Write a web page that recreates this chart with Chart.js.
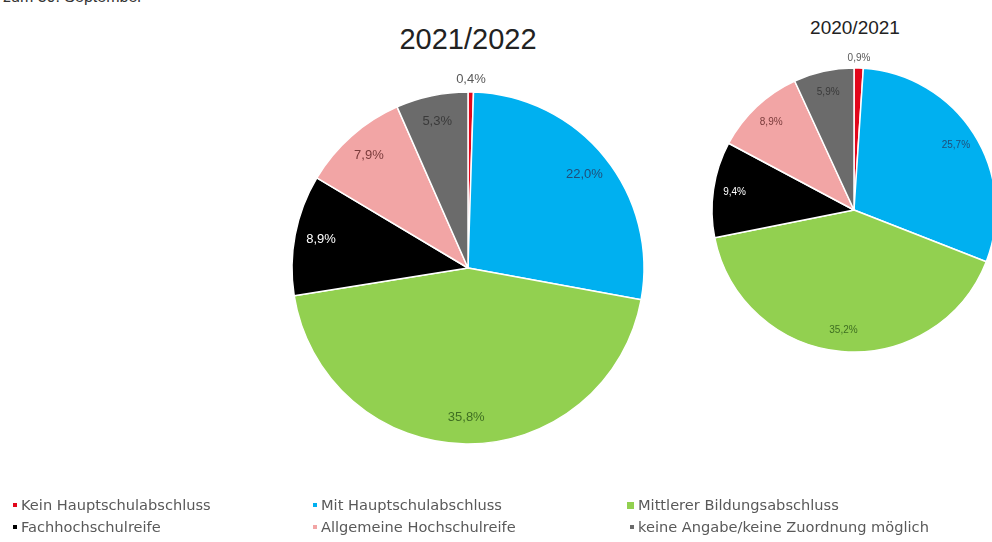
<!DOCTYPE html>
<html>
<head>
<meta charset="utf-8">
<script src="https://cdn.jsdelivr.net/npm/chart.js@4"></script>
<style>
  html, body { margin:0; padding:0; width:992px; height:542px; overflow:hidden; background:#ffffff; font-family:"Liberation Sans", Arial, sans-serif; }
  .abs { position:absolute; }
  #note { left:3px; top:-11px; font-size:16px; line-height:16px; color:#333333; white-space:nowrap; }
  .title { color:#222222; white-space:nowrap; transform:translateX(-50%); }
  #t1 { left:468px; top:23px; font-size:29px; }
  #t2 { left:855px; top:17px; font-size:19px; }
  #legend { left:0; top:496px; width:992px; height:46px; }
  .li { position:absolute; font-family:"DejaVu Sans", Verdana, sans-serif; font-size:14.6px; color:#595959; white-space:nowrap; line-height:14px; }
  .mk { position:absolute; }
</style>
</head>
<body>
<div id="note" class="abs">zum 30. September</div>
<div id="t1" class="abs title"></div>
<div id="t2" class="abs title"></div>
<canvas id="c1" class="abs" width="400" height="536" style="left:268px;top:0px;"></canvas>
<canvas id="c2" class="abs" width="300" height="340" style="left:704px;top:40px;"></canvas>
<div id="legend" class="abs"></div>
<script>
// ---- data ----
const categories = [
  "Kein Hauptschulabschluss",
  "Mit Hauptschulabschluss",
  "Mittlerer Bildungsabschluss",
  "Fachhochschulreife",
  "Allgemeine Hochschulreife",
  "keine Angabe/keine Zuordnung möglich"
];
const years = ["2021/2022", "2020/2021"];
const values2122 = [0.4, 22.0, 35.8, 8.9, 7.9, 5.3];
const values2021 = [0.9, 25.7, 35.2, 9.4, 8.9, 5.9];

// ---- styles ----
const sliceColors = ["#e2061b", "#00b0f0", "#92d050", "#000000", "#f2a5a5", "#6b6b6b"];
const labelColors = ["#595959", "#1f4e79", "#3f6f22", "#ffffff", "#7a3b3b", "#3a3a3a"];

document.getElementById('t1').textContent = years[0];
document.getElementById('t2').textContent = years[1];

function fmt(v) { return v.toFixed(1).replace('.', ',') + '%'; }

const labelPlugin = {
  id: 'sliceLabels',
  afterDatasetsDraw(chart, args, opts) {
    const ctx = chart.ctx;
    const meta = chart.getDatasetMeta(0);
    const data = chart.data.datasets[0].data;
    ctx.save();
    ctx.font = opts.fontSize + 'px "Liberation Sans", Arial, sans-serif';
    ctx.textAlign = 'center';
    ctx.textBaseline = 'middle';
    meta.data.forEach((arc, i) => {
      const p = arc.getProps(['x', 'y', 'startAngle', 'endAngle', 'outerRadius'], true);
      const mid = (p.startAngle + p.endAngle) / 2;
      const small = (p.endAngle - p.startAngle) < 0.1;
      const r = small ? p.outerRadius + opts.outside : p.outerRadius * opts.inside;
      ctx.fillStyle = labelColors[i];
      ctx.fillText(fmt(data[i]), p.x + Math.cos(mid) * r, p.y + Math.sin(mid) * r);
    });
    ctx.restore();
  }
};

function makePie(id, values, radius, fontSize, outside) {
  return new Chart(document.getElementById(id), {
    type: 'pie',
    data: {
      labels: categories,
      datasets: [{
        data: values,
        backgroundColor: sliceColors,
        borderColor: '#ffffff',
        borderWidth: 1.5
      }]
    },
    options: {
      responsive: false,
      animation: false,
      radius: radius,
      layout: { padding: 0 },
      plugins: {
        legend: { display: false },
        tooltip: { enabled: false },
        title: { display: false },
        sliceLabels: { fontSize: fontSize, inside: 0.85, outside: outside }
      }
    },
    plugins: [labelPlugin]
  });
}

makePie('c1', values2122, 176, 13, 13);
makePie('c2', values2021, 142, 10, 10);

// ---- legend (built from categories & colours) ----
const legend = document.getElementById('legend');
const cols = [13, 313, 627];
const rows = [2, 24];
categories.forEach((name, i) => {
  const col = cols[i % 3], row = rows[Math.floor(i / 3)];
  const big = (i === 2);
  const size = big ? 7 : 4;
  const mk = document.createElement('div');
  mk.className = 'mk';
  mk.style.width = size + 'px';
  mk.style.height = size + 'px';
  mk.style.background = sliceColors[i];
  mk.style.left = (col + (i === 5 ? 3 : 0)) + 'px';
  mk.style.top = (row + 7 - size / 2) + 'px';
  legend.appendChild(mk);
  const t = document.createElement('div');
  t.className = 'li';
  t.textContent = name;
  t.style.left = (col + (big ? 11 : 8) + (i === 5 ? 3 : 0)) + 'px';
  t.style.top = row + 'px';
  legend.appendChild(t);
});
</script>
</body>
</html>
